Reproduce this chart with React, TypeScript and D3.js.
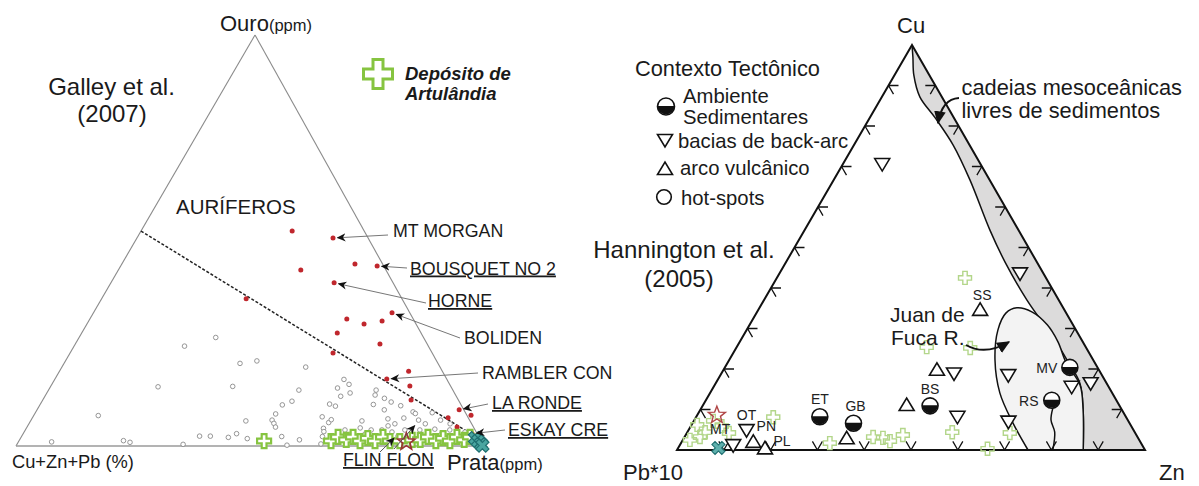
import React from 'react';
import * as d3 from 'd3';

const W = 1199;
const H = 486;

// ---------------- Left ternary (Galley et al. 2007) : [Ouro %, Prata %], rest = Cu+Zn+Pb
const auriferous: [number, number][] = [
  [52.3, 32.3], [50.6, 41.9], [42.8, 39.0], [44.3, 49.8], [43.8, 54.8], [39.7, 47.7],
  [35.8, 30.9], [32.4, 63.8], [30.9, 54.9], [29.7, 59.2], [30.4, 62.7], [27.5, 54.6],
  [24.8, 65.1], [22.6, 56.2], [18.2, 74.6], [16.3, 70.9], [14.6, 76.7], [11.2, 78.7],
  [8.8, 90.2], [7.5, 93.4], [6.9, 88.8], [4.6, 91.9],
];
const eskayCreek: [number, number] = [3.0, 95.9];
const otherVMS: [number, number][] = [
  [26.4, 29.2], [24.3, 23.6], [20.1, 37.6], [20.7, 40.9], [14.4, 23.0], [14.5, 38.9],
  [7.4, 13.8], [1.0, 7.1], [1.3, 22.3], [0.9, 23.9], [0.4, 35.5], [2.4, 38.0], [2.4, 40.3],
  [2.1, 44.3], [3.0, 45.6], [1.8, 48.5], [6.1, 46.0], [6.3, 51.5], [5.5, 52.3], [4.6, 53.1],
  [7.8, 51.5], [10.0, 51.8], [10.9, 53.4], [13.6, 53.5], [2.3, 55.6], [0.2, 57.8], [1.5, 59.8],
  [19.2, 52.1], [7.1, 61.8], [4.3, 63.5], [3.5, 64.0], [2.3, 64.3], [0.5, 64.9], [5.7, 63.9],
  [16.2, 61.8], [15.0, 63.5], [14.1, 61.5], [12.1, 63.2], [12.9, 64.8], [10.2, 61.8], [9.7, 63.3],
  [6.4, 64.1], [13.6, 70.0], [12.4, 70.4], [10.1, 71.2], [11.6, 72.8], [10.7, 74.7], [8.8, 74.2],
  [9.8, 77.2], [8.3, 80.6], [7.9, 81.3], [8.1, 84.8], [6.3, 87.5], [6.3, 82.8], [4.9, 77.0],
  [3.9, 76.2], [3.9, 73.9], [3.9, 68.3], [3.2, 70.2], [4.4, 71.3], [2.9, 73.1], [1.9, 71.9],
  [2.4, 76.1], [3.4, 78.6], [2.4, 80.4], [3.9, 81.1], [2.9, 83.1], [3.9, 84.3], [2.9, 86.5],
  [4.1, 87.4], [3.2, 89.4], [3.9, 90.7], [2.4, 93.2], [3.4, 94.2], [1.5, 74.9], [1.5, 78.1],
  [1.2, 80.4], [1.5, 86.6], [1.9, 90.7], [1.2, 93.2], [2.2, 69.0], [6.6, 76.1], [5.4, 84.7],
  [5.4, 78.2], [6.1, 70.8], [6.8, 79.4], [5.4, 90.0],
];
const artulandiaLeft: [number, number][] = [
  [1.2, 52.4], [1.2, 66.7], [2.2, 67.7], [1.5, 69.8], [2.2, 70.9], [1.2, 72.9], [1.9, 74.2],
  [1.2, 76.1], [2.2, 77.3], [1.2, 79.3], [1.2, 81.4], [1.5, 83.9], [1.5, 85.6], [2.2, 86.9],
  [1.2, 89.1], [1.9, 90.3], [1.2, 92.1], [2.2, 93.1], [1.5, 95.0], [2.2, 95.9],
];
const flinFlonStar: [number, number] = [1.0, 82.9];
const eskayCluster: [number, number][] = [[1.9, 97.1], [1.2, 98.1], [0.5, 99.1], [0.1, 99.6]];
const auriferousBoundary: [number, number][] = [[52.3, 0], [2.2, 97.2]];
const namedDeposits = [
  { name: 'MT MORGAN', underline: false, at: [50.6, 41.9] as [number, number] },
  { name: 'BOUSQUET NO 2', underline: true, at: [43.8, 54.8] as [number, number] },
  { name: 'HORNE', underline: true, at: [39.7, 47.7] as [number, number] },
  { name: 'BOLIDEN', underline: false, at: [32.4, 63.8] as [number, number] },
  { name: 'RAMBLER CON', underline: false, at: [16.3, 70.9] as [number, number] },
  { name: 'LA RONDE', underline: true, at: [8.8, 90.2] as [number, number] },
  { name: 'ESKAY CRE', underline: true, at: [3.0, 95.9] as [number, number] },
];
const flinFlonTargets: [number, number][] = [[5.5, 82.8], [2.4, 80.0]];

// ---------------- Right ternary (Hannington et al. 2005) : [Cu %, Zn %], rest = Pb*10
const backArc: [number, number][] = [
  [70.6, 8.4], [4.9, 12.4], [1.2, 11.4], [43.6, 51.4], [18.9, 49.7], [8.2, 55.8],
  [18.5, 61.5], [7.0, 67.3], [15.6, 76.5], [16.5, 80.1],
];
const volcanicArc: [number, number][] = [
  [34.6, 47.4], [19.8, 45.6], [11.1, 43.5], [2.9, 34.8], [2.0, 15.3], [0.4, 18.6],
];
const sedimented: [number, number][] = [[8.2, 26.4], [6.6, 34.4], [10.9, 48.6], [20.4, 73.7], [12.3, 73.9]];
const siteLabels = [
  { name: 'OT', at: [4.9, 12.4] as [number, number] },
  { name: 'MT', at: [1.2, 11.4] as [number, number] },
  { name: 'PN', at: [2.0, 15.3] as [number, number] },
  { name: 'PL', at: [0.4, 18.6] as [number, number] },
  { name: 'ET', at: [8.2, 26.4] as [number, number] },
  { name: 'GB', at: [6.6, 34.4] as [number, number] },
  { name: 'BS', at: [10.9, 48.6] as [number, number] },
  { name: 'SS', at: [34.6, 47.4] as [number, number] },
  { name: 'MV', at: [20.4, 73.7] as [number, number] },
  { name: 'RS', at: [12.3, 73.9] as [number, number] },
];
const artulandiaRight: [number, number][] = [
  [6.2, 1.2], [4.4, 3.8], [7.2, 4.1], [5.9, 6.6], [4.2, 9.0], [3.2, 3.3], [2.5, 1.5],
  [8.1, 16.5], [1.7, 31.8], [3.2, 40.3], [3.0, 42.5], [2.2, 44.4], [3.7, 46.4], [4.4, 56.6],
  [42.5, 40.2], [25.4, 40.6], [25.2, 50.0], [0.3, 66.2], [4.2, 69.0],
];
const flinFlonRight: [number, number] = [8.6, 4.2];
const eskayRight: [number, number] = [0.5, 8.6];
const midOceanRidgeInner: [number, number][] = [
  [97.0, 1.7], [92.6, 4.1], [87.2, 8.1], [82.0, 14.0], [75.3, 21.2], [66.7, 29.1],
  [54.3, 39.6], [46.4, 46.8], [37.0, 56.2], [27.9, 66.3], [22.2, 72.2], [16.5, 77.8],
  [9.9, 81.8], [0, 86.8],
];
const juanDeFuca: [number, number][] = [
  [0, 75.0], [6.7, 68.4], [14.1, 61.9], [22.2, 56.8], [29.6, 53.7], [33.8, 53.3], [35.1, 55.0],
  [34.1, 58.7], [30.9, 63.6], [26.7, 68.0], [21.7, 72.2], [16.0, 78.1], [9.9, 81.8], [0, 86.8],
];
const rsLine: [number, number][] = [[10.4, 75.1], [7.4, 76.2], [4.4, 78.5], [0, 80.3]];

// ---------------- geometry helpers
type Pt = { x: number; y: number };
function makeTernary(apex: Pt, left: Pt, right: Pt) {
  const ys = d3.scaleLinear().domain([0, 100]).range([left.y, apex.y]);
  const xTop = d3.scaleLinear().domain([0, 100]).range([0, apex.x - left.x]);
  const xRight = d3.scaleLinear().domain([0, 100]).range([0, right.x - left.x]);
  return (p: [number, number]): [number, number] => [left.x + xTop(p[0]) + xRight(p[1]), ys(p[0])];
}
const LA = { x: 255, y: 35 }, LL = { x: 16, y: 446 }, LR = { x: 484, y: 446 };
const RA = { x: 912, y: 45 }, RL = { x: 677, y: 450 }, RR = { x: 1145, y: 450 };
const projL = makeTernary(LA, LL, LR);
const projR = makeTernary(RA, RL, RR);

function crossPath(a: number, b: number) {
  return `M${-a},${-b}H${a}V${-a}H${b}V${a}H${a}V${b}H${-a}V${a}H${-b}V${-a}H${-a}Z`;
}
function starPath(ro: number, ri: number) {
  const pts: string[] = [];
  for (let i = 0; i < 10; i++) {
    const r = i % 2 === 0 ? ro : ri;
    const ang = -Math.PI / 2 + (i * Math.PI) / 5;
    pts.push(`${(r * Math.cos(ang)).toFixed(2)},${(r * Math.sin(ang)).toFixed(2)}`);
  }
  return 'M' + pts.join('L') + 'Z';
}
const FONT = "'Liberation Sans', Arial, Helvetica, sans-serif";

function shorten(from: [number, number], to: [number, number], d: number): [number, number] {
  const dx = from[0] - to[0], dy = from[1] - to[1];
  const L = Math.hypot(dx, dy);
  return [to[0] + (dx / L) * d, to[1] + (dy / L) * d];
}

const labelLayout: Record<string, { x: number; y: number; sx: number; sy: number }> = {
  'MT MORGAN': { x: 393, y: 236.5, sx: 388, sy: 235 },
  'BOUSQUET NO 2': { x: 410, y: 274.5, sx: 407, sy: 268 },
  HORNE: { x: 428, y: 307, sx: 426, sy: 303 },
  BOLIDEN: { x: 464, y: 344, sx: 460, sy: 338 },
  'RAMBLER CON': { x: 482, y: 379, sx: 478, sy: 373 },
  'LA RONDE': { x: 492, y: 409, sx: 488, sy: 404 },
  'ESKAY CRE': { x: 508, y: 436, sx: 505, sy: 430 },
};
const siteOffsets: Record<string, [number, number]> = {
  OT: [0, -15], MT: [-13, -16], PN: [13, -16], PL: [17, -7], ET: [0, -18], GB: [2, -17],
  BS: [0, -17], SS: [2, -15], MV: [-23, 1], RS: [-23, 1],
};

const DownTri = ({ x, y }: { x: number; y: number }) => (
  <path d={`M${x - 7.5},${y - 5.5}L${x + 7.5},${y - 5.5}L${x},${y + 7}Z`} fill="#fff" stroke="#111" strokeWidth={1.6} strokeLinejoin="miter" />
);
const UpTri = ({ x, y }: { x: number; y: number }) => (
  <path d={`M${x - 7.5},${y + 5.5}L${x + 7.5},${y + 5.5}L${x},${y - 7}Z`} fill="#fff" stroke="#111" strokeWidth={1.6} />
);
const HalfCircle = ({ x, y, r = 8 }: { x: number; y: number; r?: number }) => (
  <g>
    <circle cx={x} cy={y} r={r} fill="#fff" stroke="#111" strokeWidth={1.6} />
    <path d={`M${x - r},${y - 0.5}A${r},${r} 0 0 0 ${x + r},${y - 0.5}Z`} fill="#111" />
  </g>
);

export default function App() {
  const line = d3.line<[number, number]>();
  const smooth = d3.line<[number, number]>().curve(d3.curveCatmullRom.alpha(0.5));

  // right triangle ticks
  const ticks: string[] = [];
  const unit = (dx: number, dy: number) => { const l = Math.hypot(dx, dy); return [dx / l, dy / l]; };
  const dTR = unit(RR.x - RA.x, RR.y - RA.y);
  const dRT = unit(RA.x - RR.x, RA.y - RR.y);
  const dLT = unit(RA.x - RL.x, RA.y - RL.y);
  const dTL = unit(RL.x - RA.x, RL.y - RA.y);
  const tl = 10;
  d3.range(1, 10).forEach((k) => {
    const v = k * 10;
    const [lx, ly] = projR([v, 0]);
    ticks.push(`M${lx},${ly}l${tl},0M${lx},${ly}l${dTR[0] * tl},${dTR[1] * tl}`);
    const [bx, by] = projR([0, v]);
    ticks.push(`M${bx},${by}l${dRT[0] * tl},${dRT[1] * tl}M${bx},${by}l${dLT[0] * tl},${dLT[1] * tl}`);
    const [rx, ry] = projR([v, 100 - v]);
    ticks.push(`M${rx},${ry}l${-tl},0M${rx},${ry}l${dTL[0] * tl},${dTL[1] * tl}`);
  });

  const innerPts = midOceanRidgeInner.map(projR);
  const innerRev = [...innerPts].reverse();
  const apexR = projR([100, 0]);
  const zn = projR([0, 100]);
  const bandPath = `M${apexR}L${zn}` + (smooth(innerRev) || '').replace(/^M/, 'L') + 'Z';
  const bandStroke = smooth([apexR as [number, number], ...innerPts]) || '';
  const jdfPath = (smooth(juanDeFuca.map(projR)) || '') + 'Z';

  const crossL = crossPath(2.4, 7);
  const crossR = crossPath(2.2, 6.5);
  const star = starPath(9, 3.8);

  return (
    <svg width={W} height={H} viewBox={`0 0 ${W} ${H}`} style={{ position: 'absolute', left: 0, top: 0, background: '#fff' }} fontFamily={FONT}>
      <defs>
        <marker id="ah" viewBox="0 0 10 10" refX="9" refY="5" markerWidth="9" markerHeight="9" markerUnits="userSpaceOnUse" orient="auto">
          <path d="M0,0.5L10,5L0,9.5L3,5Z" fill="#111" />
        </marker>
        <marker id="ah2" viewBox="0 0 10 10" refX="9" refY="5" markerWidth="13" markerHeight="13" markerUnits="userSpaceOnUse" orient="auto">
          <path d="M0,0.5L10,5L0,9.5Z" fill="#111" />
        </marker>
      </defs>
      <rect width={W} height={H} fill="#fff" />

      {/* ================= LEFT DIAGRAM ================= */}
      <path d={line([projL([100, 0]), projL([0, 0])]) || ''} stroke="#8a8a8a" strokeWidth={1.1} fill="none" />
      <path d={line([projL([100, 0]), projL([0, 100])]) || ''} stroke="#8a8a8a" strokeWidth={1.1} fill="none" />
      <path d={line([projL([0, 0]), projL([0, 100])]) || ''} stroke="#9a9a9a" strokeWidth={1.6} fill="none" />
      <path d={line(auriferousBoundary.map(projL)) || ''} stroke="#222" strokeWidth={1.5} strokeDasharray="3,1.8" fill="none" />

      {otherVMS.map((p, i) => {
        const [x, y] = projL(p);
        return <circle key={'o' + i} cx={x} cy={y} r={2.3} fill="#fff" stroke="#8a8a8a" strokeWidth={0.9} />;
      })}
      {auriferous.map((p, i) => {
        const [x, y] = projL(p);
        return <circle key={'a' + i} cx={x} cy={y} r={2.5} fill="#c0272d" />;
      })}
      {(() => { const [x, y] = projL(eskayCreek); return <circle cx={x} cy={y} r={2.6} fill="#d9652b" />; })()}

      {artulandiaLeft.map((p, i) => {
        const [x, y] = projL(p);
        return <path key={'g' + i} d={crossL} transform={`translate(${x},${y})`} fill="#fff" stroke="#86c440" strokeWidth={2.2} />;
      })}
      {(() => { const [x, y] = projL(flinFlonStar); return <path d={star} transform={`translate(${x},${y})`} fill="none" stroke="#9b3434" strokeWidth={1.6} />; })()}
      {eskayCluster.map((p, i) => {
        const [x, y] = projL(p);
        return <path key={'x' + i} d={crossPath(2.3, 7)} transform={`translate(${x},${y}) rotate(45)`} fill="#4aa5a0" stroke="#1f6f70" strokeWidth={1.2} />;
      })}

      {/* labels with arrows */}
      {namedDeposits.map((d) => {
        const lay = labelLayout[d.name];
        const t = projL(d.at);
        const end = shorten([lay.sx, lay.sy], t, 4.5);
        return (
          <g key={d.name}>
            <line x1={lay.sx} y1={lay.sy} x2={end[0]} y2={end[1]} stroke="#777" strokeWidth={1} markerEnd="url(#ah)" />
            <text x={lay.x} y={lay.y} fontSize={17.8} fill="#1a1a1a" textDecoration={d.underline ? 'underline' : undefined}>{d.name}</text>
          </g>
        );
      })}
      {flinFlonTargets.map((p, i) => {
        const t = projL(p);
        const s: [number, number] = i === 0 ? [394, 449] : [380, 452];
        const end = shorten(s, t, 3);
        return <line key={'ff' + i} x1={s[0]} y1={s[1]} x2={end[0]} y2={end[1]} stroke="#555" strokeWidth={1} markerEnd="url(#ah)" />;
      })}
      <text x={343} y={466} fontSize={17.8} fill="#1a1a1a" textDecoration="underline">FLIN FLON</text>

      <text x={220} y={31} fill="#1a1a1a"><tspan fontSize={22}>Ouro</tspan><tspan fontSize={16.5}>(ppm)</tspan></text>
      <text x={447} y={470} fill="#1a1a1a"><tspan fontSize={22}>Prata</tspan><tspan fontSize={16.5}>(ppm)</tspan></text>
      <text x={12} y={468} fontSize={18.3} fill="#1a1a1a">Cu+Zn+Pb (%)</text>
      <text x={111.5} y={95} fontSize={24} fill="#1a1a1a" textAnchor="middle">Galley et al.</text>
      <text x={112} y={121.5} fontSize={24} fill="#1a1a1a" textAnchor="middle">(2007)</text>
      <text x={176} y={214} fontSize={20.5} fill="#1a1a1a">AURÍFEROS</text>

      <path d={crossPath(5, 14.5)} transform="translate(378,74)" fill="#fff" stroke="#86c440" strokeWidth={3} />
      <text x={405} y={79.5} fontSize={18.5} fontWeight="bold" fontStyle="italic" fill="#1a1a1a">Depósito de</text>
      <text x={405} y={100} fontSize={18.5} fontWeight="bold" fontStyle="italic" fill="#1a1a1a">Artulândia</text>

      {/* ================= RIGHT DIAGRAM ================= */}
      <path d={bandPath} fill="#dcdbdb" stroke="none" />
      <path d={bandStroke} fill="none" stroke="#111" strokeWidth={1.5} />
      <path d={jdfPath} fill="#f3f3f3" stroke="#111" strokeWidth={1.5} />
      <path d={smooth(rsLine.map(projR)) || ''} fill="none" stroke="#111" strokeWidth={1.5} />
      <path d={(line([projR([100, 0]), projR([0, 0]), projR([0, 100])]) || '') + 'Z'} fill="none" stroke="#111" strokeWidth={2} strokeLinejoin="miter" />
      <path d={ticks.join('')} stroke="#111" strokeWidth={1.3} fill="none" />

      {artulandiaRight.map((p, i) => {
        const [x, y] = projR(p);
        return <path key={'gr' + i} d={crossR} transform={`translate(${x},${y})`} fill="none" stroke="#b3d68a" strokeWidth={1.4} />;
      })}
      {(() => { const [x, y] = projR(flinFlonRight); return <path d={star} transform={`translate(${x},${y})`} fill="none" stroke="#b04545" strokeWidth={1.4} />; })()}
      {(() => { const [x, y] = projR(eskayRight); return <path d={crossPath(2.2, 7)} transform={`translate(${x},${y}) rotate(45)`} fill="#5fb0ad" stroke="#1f6f70" strokeWidth={1.1} />; })()}

      {backArc.map((p, i) => { const [x, y] = projR(p); return <DownTri key={'b' + i} x={x} y={y} />; })}
      {volcanicArc.map((p, i) => { const [x, y] = projR(p); return <UpTri key={'v' + i} x={x} y={y} />; })}
      {sedimented.map((p, i) => { const [x, y] = projR(p); return <HalfCircle key={'s' + i} x={x} y={y} />; })}
      {siteLabels.map((s) => {
        const [x, y] = projR(s.at);
        const o = siteOffsets[s.name];
        return <text key={s.name} x={x + o[0]} y={y + o[1]} fontSize={14} textAnchor="middle" dominantBaseline="central" fill="#222">{s.name}</text>;
      })}

      {/* annotations */}
      <path d="M959,98 Q942,99 938,123" fill="none" stroke="#111" strokeWidth={2} markerEnd="url(#ah2)" />
      <path d="M966,345 Q985,356 1009,342" fill="none" stroke="#111" strokeWidth={2} markerEnd="url(#ah2)" />
      <text x={961.5} y={94.5} fontSize={21.8} fill="#1a1a1a">cadeias mesoceânicas</text>
      <text x={961.5} y={118} fontSize={21.8} fill="#1a1a1a">livres de sedimentos</text>
      <text x={890} y={321.5} fontSize={21} fill="#1a1a1a">Juan de</text>
      <text x={891} y={345} fontSize={21} fill="#1a1a1a">Fuca R.</text>
      <text x={684} y={258} fontSize={24} fill="#1a1a1a" textAnchor="middle">Hannington et al.</text>
      <text x={679} y={286.5} fontSize={24} fill="#1a1a1a" textAnchor="middle">(2005)</text>
      <text x={897} y={33.3} fontSize={22} fill="#1a1a1a">Cu</text>
      <text x={623} y={480} fontSize={22} fill="#1a1a1a">Pb*10</text>
      <text x={1159} y={480} fontSize={22} fill="#1a1a1a">Zn</text>

      {/* legend */}
      <text x={635} y={76} fontSize={21.8} fill="#1a1a1a">Contexto Tectônico</text>
      <HalfCircle x={666} y={106.5} r={8.5} />
      <text x={683} y={103.3} fontSize={20.3} fill="#1a1a1a">Ambiente</text>
      <text x={683} y={124} fontSize={20.3} fill="#1a1a1a">Sedimentares</text>
      <DownTri x={665} y={140} />
      <text x={678} y={147.7} fontSize={20.3} fill="#1a1a1a">bacias de back-arc</text>
      <UpTri x={665} y={169} />
      <text x={680} y={175} fontSize={20.3} fill="#1a1a1a">arco vulcânico</text>
      <circle cx={664} cy={197} r={7.3} fill="#fff" stroke="#111" strokeWidth={1.6} />
      <text x={681} y={205} fontSize={20.3} fill="#1a1a1a">hot-spots</text>
    </svg>
  );
}
